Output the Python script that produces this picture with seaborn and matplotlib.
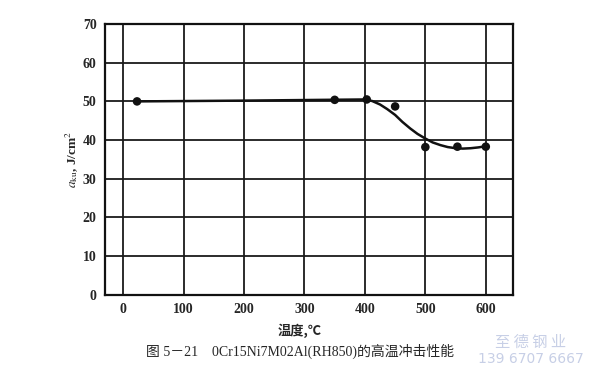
import matplotlib
matplotlib.use("Agg")
import matplotlib.pyplot as plt
import seaborn as sns
import pandas as pd

# measured points
temp = [23, 350, 403, 450, 500, 553, 600]
impact = [50.0, 50.4, 50.5, 48.7, 38.2, 38.3, 38.3]

# hand-drawn trend curve
curve_temp = [23, 200, 400, 412, 425, 437, 450, 462, 475, 487, 500, 512, 525, 537, 550, 562, 575, 587, 600]
curve_val = [50.0, 50.2, 50.5, 50.1, 49.2, 48.0, 46.5, 44.7, 43.0, 41.6, 40.4, 39.4, 38.7, 38.2, 37.9, 37.8, 37.9, 38.1, 38.4]

xticks = [0, 100, 200, 300, 400, 500, 600]
yticks = [0, 10, 20, 30, 40, 50, 60, 70]

sns.set_style("white")
plt.rcParams["font.family"] = ["Liberation Serif", "Noto Sans CJK SC", "DejaVu Sans"]
plt.rcParams["mathtext.fontset"] = "stix"

fig = plt.figure(figsize=(6, 3.87), dpi=100)
ax = fig.add_axes([0.175, 0.238, 0.68, 0.70])

pts = pd.DataFrame({"t": temp, "a": impact})
crv = pd.DataFrame({"t": curve_temp, "a": curve_val})

for v in xticks:
    ax.axvline(v, color="#1a1a1a", lw=1.3, zorder=1)
for v in yticks[1:]:
    ax.axhline(v, color="#1a1a1a", lw=1.3, zorder=1)

sns.lineplot(data=crv, x="t", y="a", ax=ax, color="#111111", lw=1.8, zorder=3)
sns.scatterplot(data=pts, x="t", y="a", ax=ax, color="#111111", s=38, edgecolor="none", zorder=4)

ax.set_xlim(-30, 645)
ax.set_ylim(0, 70)
ax.set_xticks(xticks)
ax.set_yticks(yticks)
ax.set_xticklabels([str(v) for v in xticks], fontweight="bold", fontsize=10)
ax.set_yticklabels([str(v) for v in yticks], fontweight="bold", fontsize=10)
ax.tick_params(length=0, pad=6)
for s in ax.spines.values():
    s.set_color("#111111")
    s.set_linewidth(1.6)

ax.set_xlabel("")
ax.set_ylabel(r"$a_{\mathrm{ku}}$, J/cm$^2$", fontsize=9.5, fontweight="bold", labelpad=2)

fig.text(0.5, 0.145, "温度,℃", ha="center", va="center", fontsize=9.5, fontweight="bold",
         family=["Noto Sans CJK SC", "DejaVu Sans"])
fig.text(0.5, 0.093, "图 5－21　0Cr15Ni7M02Al(RH850)的高温冲击性能", ha="center", va="center",
         fontsize=10, family=["Liberation Serif", "Noto Sans CJK SC"])
fig.text(0.884, 0.116, "至 德 钢 业", ha="center", va="center", fontsize=11, color="#c7cfe6",
         family=["Noto Sans CJK SC"])
fig.text(0.884, 0.072, "139 6707 6667", ha="center", va="center", fontsize=10, color="#c7cfe6",
         family=["DejaVu Sans"])

fig.savefig("out.png", dpi=100)
